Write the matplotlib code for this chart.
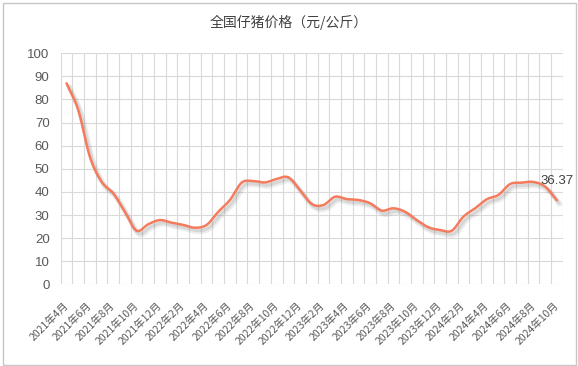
import numpy as np
import matplotlib
matplotlib.use('Agg')
import matplotlib.pyplot as plt
import matplotlib.patheffects as pe
from matplotlib.patches import Rectangle

plt.rcParams['font.family'] = ['Noto Sans CJK SC', 'DejaVu Sans']

# 月份: 2021年4月 ~ 2024年10月
meses = []
for anio in range(2021, 2025):
    for m in range(1, 13):
        if (anio == 2021 and m < 4) or (anio == 2024 and m > 10):
            continue
        meses.append(f'{anio}年{m}月')

precios = [87.0, 75.5, 55.2, 44.4, 39.4, 31.4, 23.2, 26.0, 27.8,
           26.7, 25.7, 24.5, 25.7, 31.4, 36.5, 44.0, 44.7, 44.1, 45.6, 46.3, 40.8,
           34.8, 34.3, 37.9, 36.9, 36.5, 35.1, 31.9, 32.9, 31.4, 27.8, 24.7, 23.5,
           23.2, 29.3, 32.9, 36.8, 38.7, 43.4, 44.0, 44.3, 42.3, 36.37]

titulo = '全国仔猪价格（元/公斤）'


# curva suavizada tipo Catmull-Rom (como la "línea suavizada" de Excel)
def suavizar(y, n=20):
    p = np.asarray(y, dtype=float)
    x = np.arange(len(p), dtype=float)
    px = np.concatenate([[2 * x[0] - x[1]], x, [2 * x[-1] - x[-2]]])
    py = np.concatenate([[2 * p[0] - p[1]], p, [2 * p[-1] - p[-2]]])
    xs, ys = [], []
    t = np.linspace(0, 1, n, endpoint=False)
    for i in range(1, len(px) - 2):
        for arr, out in ((px, xs), (py, ys)):
            p0, p1, p2, p3 = arr[i - 1], arr[i], arr[i + 1], arr[i + 2]
            out.extend(0.5 * ((2 * p1) + (-p0 + p2) * t +
                              (2 * p0 - 5 * p1 + 4 * p2 - p3) * t ** 2 +
                              (-p0 + 3 * p1 - 3 * p2 + p3) * t ** 3))
    xs.append(x[-1])
    ys.append(p[-1])
    return np.array(xs), np.array(ys)


fig = plt.figure(figsize=(5.78, 3.66), dpi=100)
ax = fig.add_axes([0.105, 0.2232, 0.8685, 0.6312])

# borde exterior
fig.patches.append(Rectangle((2.5 / 578, 1.5 / 366), 573 / 578, 362 / 366,
                             transform=fig.transFigure, fill=False,
                             edgecolor='#C6C6C6', linewidth=1.0))

xs, ys = suavizar(precios)
ax.plot(xs, ys, color='#F47B5C', linewidth=1.8, solid_capstyle='round', zorder=3,
        path_effects=[pe.SimpleLineShadow(offset=(2.0, -2.6), shadow_color='#808080',
                                          alpha=0.14, linewidth=4.0),
                      pe.SimpleLineShadow(offset=(1.6, -2.0), shadow_color='#808080',
                                          alpha=0.2, linewidth=2.4),
                      pe.Normal()])

n = len(precios)
ax.annotate(f'{precios[-1]:.2f}', xy=(n - 1, precios[-1]), xytext=(0, 14),
            textcoords='offset points', ha='center', va='center',
            fontsize=9.5, color='#404040', family=['Liberation Sans'])

ax.set_xlim(-0.5, n - 0.5)
ax.set_ylim(0, 100)
ax.set_yticks(np.arange(0, 101, 10))
ax.set_xticks(np.arange(-0.5, n, 1), minor=True)
ax.set_xticks(np.arange(0, n, 2))
ax.set_xticklabels(meses[::2], rotation=45, ha='right', va='center',
                   rotation_mode='anchor', fontsize=7.5, color='#595959')
for lab in ax.get_yticklabels():
    lab.set_family(['Liberation Sans'])
    lab.set_fontsize(9.5)
    lab.set_color('#595959')

ax.grid(True, axis='y', color='#D9D9D9', linewidth=0.8)
ax.grid(True, axis='x', which='minor', color='#D9D9D9', linewidth=0.8)
ax.tick_params(axis='both', which='both', length=0)
ax.tick_params(axis='y', pad=8)
ax.tick_params(axis='x', pad=14)
for s in ax.spines.values():
    s.set_visible(False)
ax.set_axisbelow(True)

fig.text(0.5, 0.94, titulo, ha='center', va='center', fontsize=10, color='#404040')

fig.savefig('out.png', dpi=100)
